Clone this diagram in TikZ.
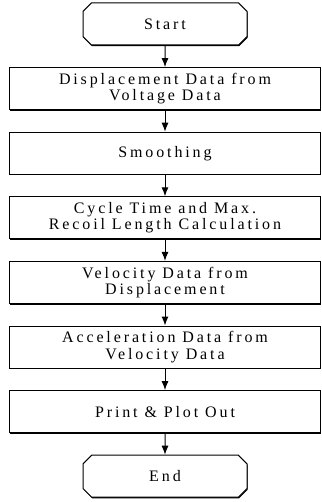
\documentclass[tikz,border=0pt]{standalone}
\usepackage{fontspec}
\setmainfont{Liberation Serif}
\usetikzlibrary{arrows.meta,positioning,shapes.misc,shadows}

\begin{document}
\begin{tikzpicture}[x=1pt,y=1pt,node distance=64.6pt,on grid,
    >={Latex[length=9pt,width=7pt]},
    font=\fontsize{16}{16.5}\selectfont\addfontfeature{LetterSpace=18}]
            \tikzstyle{process}=[draw,line width=1pt,fill=white,minimum width=311pt,minimum height=42pt,
                align=center,inner sep=0pt,
                drop shadow={shadow xshift=0.6pt,shadow yshift=-1.2pt,opacity=1,fill=black}]
            \tikzstyle{terminal}=[process,chamfered rectangle,chamfered rectangle xsep=12pt,minimum width=164pt]

            \useasboundingbox (0,0) rectangle (321,-502);

            \node[terminal] (start)  at (165,-24)      {Start};
            \node[process]  (disp)   [below of=start]  {Displacement Data from\\Voltage Data};
            \node[process]  (smooth) [below of=disp]   {Smoothing};
            \node[process]  (cycle)  [below of=smooth] {Cycle Time and Max.\\Recoil Length Calculation};
            \node[process]  (vel)    [below of=cycle]  {Velocity Data from\\Displacement};
            \node[process]  (acc)    [below of=vel]    {Acceleration Data from\\Velocity Data};
            \node[process]  (print)  [below of=acc]    {Print \& Plot Out};
            \node[terminal] (end)    [below of=print]  {End};

            \path[->,line width=1pt]
                (start)  edge (disp)
                (disp)   edge (smooth)
                (smooth) edge (cycle)
                (cycle)  edge (vel)
                (vel)    edge (acc)
                (acc)    edge (print)
                (print)  edge (end)
                ;
\end{tikzpicture}
\end{document}
